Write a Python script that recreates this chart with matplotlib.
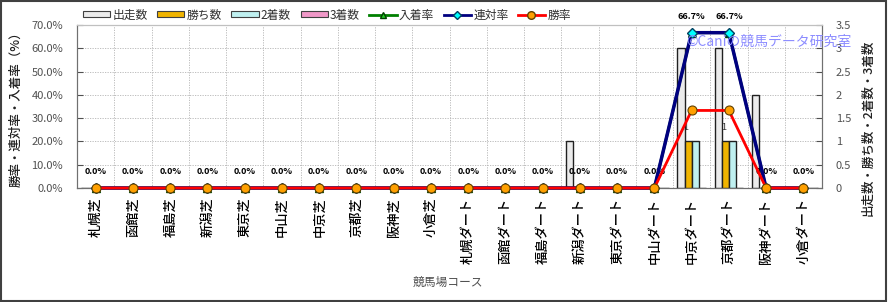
import matplotlib
matplotlib.use("Agg")
import matplotlib.pyplot as plt
import numpy as np
from matplotlib.patches import Rectangle
from matplotlib.lines import Line2D

plt.rcParams['font.family'] = ['Noto Sans CJK JP', 'DejaVu Sans']

courses = ["札幌芝", "函館芝", "福島芝", "新潟芝", "東京芝", "中山芝", "中京芝", "京都芝", "阪神芝", "小倉芝",
           "札幌ダート", "函館ダート", "福島ダート", "新潟ダート", "東京ダート", "中山ダート", "中京ダート",
           "京都ダート", "阪神ダート", "小倉ダート"]
starts = [0, 0, 0, 0, 0, 0, 0, 0, 0, 0, 0, 0, 0, 1, 0, 0, 3, 3, 2, 0]
wins = [0, 0, 0, 0, 0, 0, 0, 0, 0, 0, 0, 0, 0, 0, 0, 0, 1, 1, 0, 0]
seconds = [0, 0, 0, 0, 0, 0, 0, 0, 0, 0, 0, 0, 0, 0, 0, 0, 1, 1, 0, 0]
thirds = [0] * 20
win_rate = [0, 0, 0, 0, 0, 0, 0, 0, 0, 0, 0, 0, 0, 0, 0, 0, 33.3, 33.3, 0, 0]
rentai_rate = [0, 0, 0, 0, 0, 0, 0, 0, 0, 0, 0, 0, 0, 0, 0, 0, 66.7, 66.7, 0, 0]
place_rate = [0, 0, 0, 0, 0, 0, 0, 0, 0, 0, 0, 0, 0, 0, 0, 0, 66.7, 66.7, 0, 0]

fig = plt.figure(figsize=(8.9, 3.02), dpi=100)
fig.patch.set_facecolor('white')
ax = fig.add_axes([77/890, 1-188/302, (822-77)/890, (188-25)/302])
ax2 = ax.twinx()
ax.set_zorder(ax2.get_zorder() + 1)
ax.patch.set_visible(False)
ax2.set_facecolor('#FCF1DC')

x = np.arange(len(courses))
w = 0.19
bar_cols = ['#EBEBEB', '#F0B400', '#BFF0F0', '#F098C8']
bar_data = [starts, wins, seconds, thirds]
offs = [-1.5*w, -0.5*w, 0.5*w, 1.5*w]
for d, c, o in zip(bar_data, bar_cols, offs):
    ax2.bar(x + o, d, width=w, color=c, edgecolor='#202020', linewidth=1.0, zorder=3)

ax2.set_ylim(0, 3.5)
ax2.set_yticks(np.arange(0, 3.51, 0.5))
ax2.set_yticklabels(['0', '0.5', '1', '1.5', '2', '2.5', '3', '3.5'])

ax.set_xlim(-0.5, len(courses) - 0.5)
ax.set_ylim(0, 70)
ax.set_yticks(np.arange(0, 71, 10))
ax.set_yticklabels([f"{v:.1f}%" for v in np.arange(0, 71, 10)])

# grid (on background axes)
for b in np.arange(0.5, len(courses) - 0.5, 1):
    ax2.axvline(b, color='#B4B4B4', lw=0.6, ls=(0, (1.5, 1.5)), zorder=1)
for v in np.arange(0.5, 3.5, 0.5):
    ax2.axhline(v, color='#B4B4B4', lw=0.6, ls=(0, (1.5, 1.5)), zorder=1)

ax.plot(x, place_rate, color='#008000', lw=2, marker='^', ms=6, mfc='#22AA22', mec='#004000',
        zorder=4, clip_on=False)
ax.plot(x, rentai_rate, color='#000080', lw=2.5, marker='D', ms=5, mfc='#00FFFF', mec='#004060',
        zorder=5, clip_on=False)
ax.plot(x, win_rate, color='#FF0000', lw=2, marker='o', ms=6.5, mfc='#FFA000', mec='#604000', mew=0.8,
        zorder=6, clip_on=False)

for xi, v in zip(x, place_rate):
    ax.annotate(f"{v:.1f}%", (xi, v), xytext=(0, 12), textcoords='offset points',
                ha='center', va='center', fontsize=6.5, fontweight='bold', color='black', annotation_clip=False)
for xi, v in zip(x, wins):
    if v > 0:
        ax2.annotate(f"{v}", (xi - 0.5*w - w/2 + 0.04, v), xytext=(0, 10), textcoords='offset points',
                     ha='center', va='center', fontsize=6.5, color='#303030')

ax.set_xticks(x)
ax.set_xticklabels(courses, rotation=90, fontsize=9.5, color='black', va='top', fontweight='medium')
ax.tick_params(axis='x', length=0, pad=7)
ax.tick_params(axis='y', direction='in', length=4, labelsize=8, colors='#505050', pad=10)
ax2.tick_params(axis='y', direction='in', length=4, labelsize=8, colors='#505050', pad=10)
for a in (ax, ax2):
    for s in ['left', 'bottom', 'right']:
        a.spines[s].set_color('#707070')
    a.spines['top'].set_color('#C0C0C0')

fig.text(16/890, 1-106/302, "勝率・連対率・入着率（%）", rotation=90, ha='center', va='center', fontsize=9,
         color='#202020', fontweight='medium')
fig.text(868/890, 1-128/302, "出走数・勝ち数・2着数・3着数", rotation=90, ha='center', va='center', fontsize=9,
         color='#202020', fontweight='medium')
fig.text(448/890, 1-282/302, "競馬場コース", ha='center', va='center', fontsize=8.5, color='#505050')
fig.text(686/890, 1-42/302, "©Caniの競馬データ研究室", ha='left', va='center', fontsize=10, color='#8C8CFF', zorder=10)

handles = [Rectangle((0, 0), 1, 1, fc=c, ec='#404040', lw=0.8) for c in bar_cols]
handles += [Line2D([], [], color='#008000', lw=2, marker='^', ms=5, mfc='#22CC22', mec='#004000'),
            Line2D([], [], color='#000080', lw=2, marker='D', ms=4.5, mfc='#00FFFF', mec='#004060'),
            Line2D([], [], color='#FF0000', lw=2, marker='o', ms=5.5, mfc='#FFA000', mec='#604000')]
labels = ["出走数", "勝ち数", "2着数", "3着数", "入着率", "連対率", "勝率"]
fig.legend(handles, labels, loc='center left', bbox_to_anchor=(83/890, 1-15/302), ncol=7, frameon=False,
           fontsize=8.5, handlelength=2.3, handleheight=0.45, handletextpad=0.2, columnspacing=0.8,
           borderpad=0, borderaxespad=0, labelcolor='#303030')

fig.add_artist(Rectangle((0.001, 0.004), 0.994, 0.994, transform=fig.transFigure, fill=False,
                         ec='#404040', lw=1.5))
fig.savefig('out.png', dpi=100, facecolor='white')
